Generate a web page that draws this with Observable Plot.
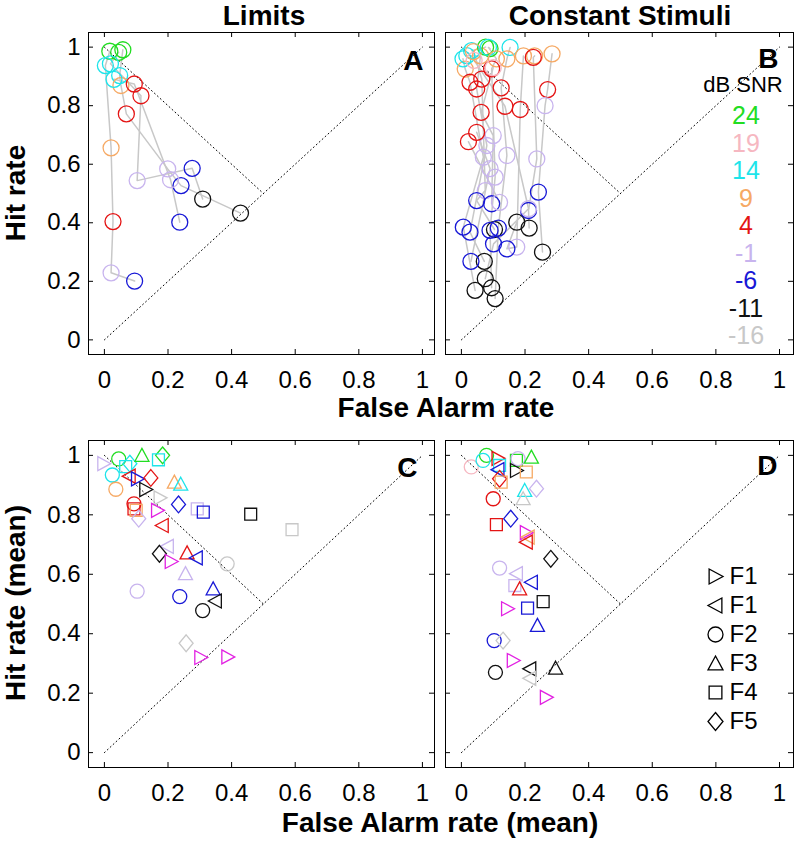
<!DOCTYPE html>
<html><head><meta charset="utf-8">
<script src="https://cdn.jsdelivr.net/npm/d3@7"></script>
<script src="https://cdn.jsdelivr.net/npm/@observablehq/plot@0.6"></script>
<style>
body{margin:0;background:#fff;}
#wrap{position:relative;width:796px;height:843px;overflow:hidden;background:#fff;font-family:'Liberation Sans',Arial,Helvetica,sans-serif;}
</style></head><body><div id="wrap"></div>
<script>
// ---------- data ----------
const snrLevels = ["24","19","14","9","4","-1","-6","-11","-16"];
const snrColors = ["#22dd22","#f6b7c1","#1ee4ea","#f6a964","#e41414","#c8b4ee","#1818d6","#111111","#c8c8c8"];
const magenta = "#e222e2";
const xTicks = [0,0.2,0.4,0.6,0.8,1];
const yTicks = [0,0.2,0.4,0.6,0.8,1];
const tickLabels = ["0","0.2","0.4","0.6","0.8","1"];
const chanceX = [0,1], chanceY = [0,1];
const critX = [0,0.5], critY = [1,0.5];
const legendShapes = ["tr","tl","o","^","s","d"];
const legendNames = ["F1","F1","F2","F3","F4","F5"];

// Panel A (Limits): subject, SNR, false-alarm rate, hit rate
const aSubject = [1,1,1,1,1,1, 2,2,2,2,2,2,2, 3,3,3,3,3,3, 4,4,4,4];
const aSnr = ["24","14","9","4","-1","-6", "24","14","9","4","-1","-6","-11", "24","14","4","-1","-6","-11", "14","4","-1","-6"];
const aFa  = [0.017,0.003,0.021,0.027,0.021,0.095, 0.058,0.048,0.052,0.069,0.199,0.241,0.428, 0.045,0.019,0.115,0.103,0.276,0.309, 0.030,0.094,0.208,0.237];
const aHit = [0.986,0.937,0.656,0.404,0.229,0.201, 0.991,0.903,0.869,0.772,0.584,0.527,0.433, 0.982,0.943,0.834,0.544,0.586,0.481, 0.890,0.874,0.547,0.402];

// Panel B (Constant Stimuli)
const bSubject = [1,1,1,1,1,1, 2,2,2,2,2,2, 3,3,3,3,3,3,3, 4,4,4,4,4,4,4, 5,5,5,5,5,5, 6,6,6,6,6, 7,7,7,7,7, 8,8,8,8,8, 9,9,9,9,9, 10,10,10,10, 11,11,11, 12,12];
const bSnr = ["14","9","4","-1","-6","-11", "14","9","4","-1","-6","-11", "24","14","9","4","-1","-6","-11", "24","14","9","4","-1","-6","-11", "14","9","4","-1","-6","-11", "9","4","-1","-6","-11", "9","4","-1","-6","-11", "9","4","-1","-6","-11", "19","4","-1","-6","-11", "19","4","-1","-6", "4","-1","-6", "4","-1"];
const bFa  = [0.005,0.012,0.027,0.069,0.006,0.043, 0.017,0.060,0.048,0.080,0.027,0.072, 0.076,0.032,0.038,0.064,0.075,0.048,0.104, 0.090,0.085,0.110,0.095,0.106,0.090,0.095, 0.153,0.143,0.125,0.143,0.116,0.106, 0.195,0.185,0.174,0.143,0.174, 0.285,0.271,0.263,0.242,0.255, 0.230,0.226,0.237,0.211,0.213, 0.040,0.137,0.211,0.101,0.075, 0.100,0.062,0.100,0.095, 0.048,0.090,0.030, 0.022,0.120];
const bHit = [0.960,0.925,0.880,0.624,0.385,0.169, 0.971,0.970,0.857,0.664,0.368,0.268, 1.000,0.988,0.985,0.891,0.510,0.476,0.377, 0.995,0.999,0.960,0.926,0.556,0.374,0.178, 0.999,0.960,0.861,0.630,0.382,0.141, 0.970,0.787,0.317,0.311,0.402, 0.977,0.855,0.800,0.505,0.300, 0.970,0.965,0.618,0.442,0.382, 0.955,0.798,0.448,0.328,0.209, 0.930,0.777,0.698,0.465, 0.709,0.585,0.268, 0.677,0.470];

// Panel C (Limits, means per formant cue); "m" = magenta series
const cSnr = ["-1","24","14","9","14","14","24","24","14","4","-6","4","-11","-16","9","14","4","4","9","-1","m","-6","-1","-6","-11","-16","4","-1","-11","m","4","-6","-1","-16","-1","-6","-6","-11","-11","-16","m","m"];
const cShape = ["tr","o","o","o","d","s","^","d","s","tl","tr","d","tr","tr","^","^","o","s","s","d","tr","d","s","s","s","s","tl","tl","d","tr","^","tl","^","o","o","o","^","tl","o","d","tr","tr"];
const cFa  = [-0.002,0.045,0.025,0.036,0.080,0.067,0.118,0.183,0.170,0.078,0.104,0.146,0.130,0.175,0.220,0.240,0.093,0.093,0.100,0.108,0.167,0.233,0.292,0.311,0.460,0.590,0.182,0.198,0.173,0.210,0.260,0.289,0.255,0.386,0.103,0.237,0.342,0.349,0.309,0.257,0.303,0.388];
const cHit = [0.972,0.988,0.934,0.886,0.972,0.962,1.000,1.000,0.985,0.930,0.921,0.924,0.885,0.857,0.910,0.903,0.837,0.820,0.815,0.787,0.815,0.835,0.820,0.809,0.802,0.750,0.764,0.694,0.669,0.643,0.672,0.655,0.602,0.635,0.543,0.525,0.551,0.510,0.478,0.368,0.320,0.322];

// Panel D (Constant Stimuli, means per formant cue)
const dSnr = ["19","24","14","4","14","24","-1","24","-6","-11","9","4","9","14","-1","-16","4","4","-6","m","9","4","-11","-1","-1","-1","4","-6","-11","m","-6","-6","-6","-16","m","-11","-11","-16","-11","m"];
const dShape = ["o","o","o","tr","s","s","o","^","tl","tr","s","d","s","^","d","^","o","s","d","tr","tl","tl","d","o","tl","s","^","tl","s","tr","s","^","o","d","tr","o","tl","tl","^","tr"];
const dFa  = [0.031,0.079,0.068,0.115,0.120,0.173,0.178,0.220,0.115,0.173,0.204,0.120,0.125,0.199,0.236,0.194,0.100,0.110,0.155,0.204,0.210,0.204,0.281,0.120,0.173,0.168,0.183,0.220,0.257,0.145,0.208,0.239,0.103,0.131,0.163,0.107,0.215,0.215,0.296,0.267];
const dHit = [0.961,1.000,0.983,0.990,0.966,0.983,0.989,0.994,0.952,0.949,0.944,0.921,0.910,0.882,0.888,0.854,0.854,0.767,0.787,0.740,0.725,0.708,0.652,0.621,0.602,0.562,0.551,0.573,0.508,0.484,0.486,0.428,0.377,0.377,0.310,0.270,0.282,0.250,0.284,0.186];

// ---------- helpers ----------
const FONT = "'Liberation Sans', Arial, Helvetica, sans-serif";
const wrap = document.getElementById("wrap");
const colorOf = s => s === "m" ? magenta : snrColors[snrLevels.indexOf(s)];
const rad = s => Math.sqrt(s / Math.PI);
const SYM = {
  o:  {draw(c, s){ const r = rad(s); c.moveTo(r, 0); c.arc(0, 0, r, 0, 2 * Math.PI); }},
  tr: {draw(c, s){ const r = rad(s); c.moveTo(-0.85*r, -r); c.lineTo(r, 0); c.lineTo(-0.85*r, r); c.closePath(); }},
  tl: {draw(c, s){ const r = rad(s); c.moveTo(0.85*r, -r); c.lineTo(-r, 0); c.lineTo(0.85*r, r); c.closePath(); }},
  "^":{draw(c, s){ const r = rad(s); c.moveTo(0, -r); c.lineTo(r, 0.85*r); c.lineTo(-r, 0.85*r); c.closePath(); }},
  s:  {draw(c, s){ const r = rad(s), h = 0.85*r; c.rect(-h, -h, 2*h, 2*h); }},
  d:  {draw(c, s){ const r = rad(s); c.moveTo(0, -1.2*r); c.lineTo(r, 0); c.lineTo(0, 1.2*r); c.lineTo(-r, 0); c.closePath(); }}
};
const zip = (keys, cols) => cols[0].map((_, i) => Object.fromEntries(keys.map((k, j) => [k, cols[j][i]])));
const chance = zip(["x","y"], [chanceX, chanceY]);
const crit = zip(["x","y"], [critX, critY]);

function place(el, left, top) {
  el.style.position = "absolute";
  el.style.left = left + "px";
  el.style.top = top + "px";
  wrap.appendChild(el);
}

function label(txt, x, y, {size = 28, weight = "bold", color = "#000", rotate = 0} = {}) {
  const d = document.createElement("div");
  d.textContent = txt;
  Object.assign(d.style, {position: "absolute", left: x + "px", top: y + "px",
    transform: `translate(-50%,-50%) rotate(${rotate}deg)`, fontSize: size + "px",
    fontWeight: weight, color, whiteSpace: "nowrap", lineHeight: "1", fontFamily: FONT});
  wrap.appendChild(d);
}

function panel(cfg) {
  const {fw, fh, mL, mR, mT, mB} = cfg;
  const marks = [
    Plot.line(chance, {x: "x", y: "y", stroke: "#000", strokeWidth: 1, strokeDasharray: "1,3"}),
    Plot.line(crit, {x: "x", y: "y", stroke: "#000", strokeWidth: 1, strokeDasharray: "1,3"})
  ];
  if (cfg.lines) marks.push(Plot.line(cfg.points, {x: "fa", y: "hit", z: "subject", stroke: "#c8c8c8", strokeWidth: 1.5}));
  marks.push(Plot.dot(cfg.points, {x: "fa", y: "hit", r: cfg.r,
    symbol: d => SYM[d.shape || "o"], stroke: d => colorOf(d.snr), fill: "none", strokeWidth: 1.3}));
  marks.push(
    Plot.frame({stroke: "#000", strokeWidth: 1}),
    Plot.tickX(xTicks, {x: d => d, insetTop: fh - 5, stroke: "#000"}),
    Plot.tickX(xTicks, {x: d => d, insetBottom: fh - 5, stroke: "#000"}),
    Plot.tickY(yTicks, {y: d => d, insetLeft: fw - 5, stroke: "#000"}),
    Plot.tickY(yTicks, {y: d => d, insetRight: fw - 5, stroke: "#000"}),
    Plot.axisX(xTicks, {anchor: "bottom", tickSize: 0, tickPadding: 16, fontSize: 24, fill: "#000",
      tickFormat: d => tickLabels[xTicks.indexOf(d)], label: null}),
    Plot.text([cfg.letter], {frameAnchor: "top-right", dx: cfg.ldx, dy: cfg.ldy, lineAnchor: "top",
      textAnchor: "end", fontSize: 28, fontWeight: "bold", fill: "#000", text: d => d})
  );
  if (cfg.showY) marks.push(Plot.axisY(yTicks, {anchor: "left", tickSize: 0, tickPadding: 8, fontSize: 24, fill: "#000",
      tickFormat: d => tickLabels[yTicks.indexOf(d)], label: null}));
  const svg = Plot.plot({
    width: mL + fw + mR, height: mT + fh + mB,
    marginLeft: mL, marginRight: mR, marginTop: mT, marginBottom: mB,
    x: {domain: cfg.xd},
    y: {domain: [-0.05, 1.05], axis: cfg.showY ? undefined : null},
    style: {fontFamily: FONT, background: "transparent", overflow: "visible", color: "#000"},
    marks
  });
  place(svg, cfg.left, cfg.top);
}

const ptsA = zip(["subject","snr","fa","hit"], [aSubject, aSnr, aFa, aHit]);
const ptsB = zip(["subject","snr","fa","hit"], [bSubject, bSnr, bFa, bHit]);
const ptsC = zip(["snr","shape","fa","hit"], [cSnr, cShape, cFa, cHit]);
const ptsD = zip(["snr","shape","fa","hit"], [dSnr, dShape, dFa, dHit]);

panel({points: ptsA, lines: true, r: 8, letter: "A", showY: true, left: 28, top: 24,
  mL: 60, mR: 4, mT: 8, mB: 40, fw: 346, fh: 322, xd: [-0.05, 1.038], ldx: -11, ldy: 18});
panel({points: ptsB, lines: true, r: 8, letter: "B", showY: false, left: 441, top: 24,
  mL: 4, mR: 3, mT: 8, mB: 40, fw: 348, fh: 322, xd: [-0.05, 1.044], ldx: -15, ldy: 16});
panel({points: ptsC, lines: false, r: 7, letter: "C", showY: true, left: 28, top: 432,
  mL: 60, mR: 4, mT: 8, mB: 45, fw: 346, fh: 327, xd: [-0.05, 1.038], ldx: -17, ldy: 17});
panel({points: ptsD, lines: false, r: 7, letter: "D", showY: false, left: 441, top: 432,
  mL: 4, mR: 3, mT: 8, mB: 45, fw: 348, fh: 327, xd: [-0.05, 1.044], ldx: -16, ldy: 15});

// SNR legend (panel B)
label("dB SNR", 743, 85, {size: 22, weight: "normal"});
snrLevels.forEach((s, i) => label(s, 746, 115 + i * 27.5, {size: 25, weight: "normal", color: snrColors[i]}));

// Formant-cue legend (panel D)
const idx = d3.range(legendShapes.length);
const leg = Plot.plot({
  width: 90, height: 180, margin: 0,
  y: {type: "point", domain: idx, range: [15, 15 + 5 * 29.5], padding: 0, axis: null},
  style: {fontFamily: FONT, background: "transparent", overflow: "visible"},
  marks: [
    Plot.dot(idx, {y: i => i, frameAnchor: "left", dx: 10, r: 7.5, symbol: i => SYM[legendShapes[i]],
      stroke: "#000", fill: "none", strokeWidth: 1.3}),
    Plot.text(idx, {y: i => i, frameAnchor: "left", dx: 24, text: i => legendNames[i],
      textAnchor: "start", fontSize: 24, fill: "#000"})
  ]
});
place(leg, 705, 560);

// titles
label("Limits", 264, 16);
label("Constant Stimuli", 620, 16);
label("False Alarm rate", 446, 408);
label("False Alarm rate (mean)", 440, 823);
label("Hit rate", 16, 193, {rotate: -90});
label("Hit rate (mean)", 16, 603, {rotate: -90});
</script></body></html>
